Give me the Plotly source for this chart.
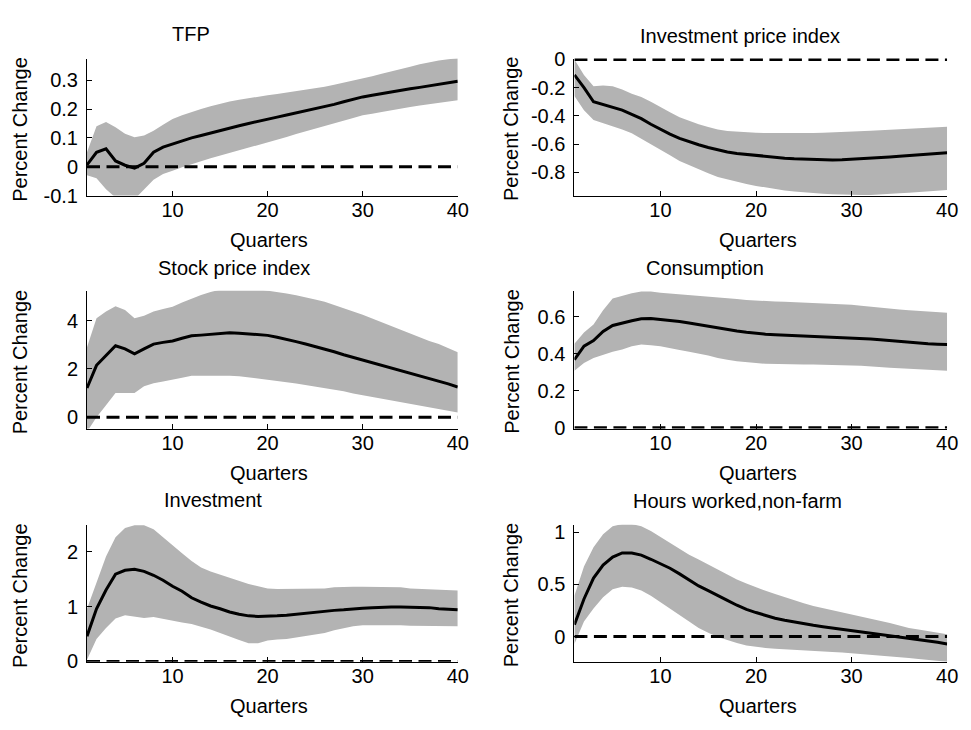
import plotly.graph_objects as go

# Impulse responses (percent change) over 40 quarters: median and error band
quarters = list(range(1, 41))

tfp_med = [0.006, 0.05, 0.062, 0.02, 0.005, -0.005, 0.012, 0.05, 0.068, 0.079,
           0.09, 0.10, 0.108, 0.117, 0.126, 0.134, 0.142, 0.150, 0.158, 0.166,
           0.172, 0.179, 0.186, 0.193, 0.200, 0.208, 0.216, 0.225, 0.234, 0.242,
           0.248, 0.254, 0.260, 0.265, 0.270, 0.275, 0.280, 0.286, 0.291, 0.296]
tfp_hi = [0.05, 0.14, 0.155, 0.137, 0.114, 0.102, 0.108, 0.125, 0.145, 0.165,
          0.178, 0.19, 0.200, 0.210, 0.219, 0.226, 0.232, 0.238, 0.243, 0.248,
          0.252, 0.257, 0.261, 0.266, 0.271, 0.277, 0.284, 0.291, 0.298, 0.306,
          0.314, 0.322, 0.331, 0.339, 0.347, 0.355, 0.362, 0.368, 0.373, 0.376]
tfp_lo = [-0.03, -0.04, -0.078, -0.107, -0.119, -0.113, -0.08, -0.045, -0.025, -0.014,
          -0.002, 0.009, 0.019, 0.029, 0.038, 0.048, 0.057, 0.066, 0.076, 0.085,
          0.094, 0.103, 0.113, 0.122, 0.131, 0.141, 0.150, 0.160, 0.169, 0.178,
          0.184, 0.190, 0.196, 0.202, 0.207, 0.212, 0.217, 0.221, 0.226, 0.230]

ipi_med = [-0.11, -0.2, -0.3, -0.32, -0.335, -0.36, -0.39, -0.42, -0.46, -0.497,
           -0.53, -0.56, -0.585, -0.605, -0.625, -0.643, -0.656, -0.667, -0.674, -0.68,
           -0.69, -0.697, -0.7, -0.705, -0.708, -0.71, -0.712, -0.713, -0.711, -0.708,
           -0.705, -0.7, -0.697, -0.692, -0.687, -0.682, -0.677, -0.673, -0.668, -0.662]
ipi_hi = [0.0, -0.11, -0.19, -0.185, -0.19, -0.214, -0.244, -0.267, -0.3, -0.34,
          -0.375, -0.41, -0.437, -0.46, -0.48, -0.497, -0.507, -0.513, -0.517, -0.52,
          -0.522, -0.523, -0.524, -0.525, -0.524, -0.522, -0.52, -0.518, -0.515, -0.513,
          -0.51, -0.506, -0.502, -0.499, -0.496, -0.492, -0.488, -0.484, -0.481, -0.478]
ipi_lo = [-0.26, -0.36, -0.43, -0.455, -0.474, -0.497, -0.524, -0.559, -0.6, -0.64,
          -0.68, -0.72, -0.752, -0.78, -0.808, -0.834, -0.853, -0.869, -0.884, -0.897,
          -0.909, -0.92, -0.929, -0.937, -0.943, -0.948, -0.952, -0.956, -0.959, -0.961,
          -0.962, -0.962, -0.96, -0.955, -0.949, -0.945, -0.941, -0.937, -0.932, -0.926]

spi_med = [1.21, 2.15, 2.56, 2.96, 2.83, 2.63, 2.83, 3.03, 3.1, 3.16,
           3.27, 3.37, 3.4, 3.43, 3.46, 3.5, 3.48, 3.46, 3.43, 3.39,
           3.31, 3.23, 3.13, 3.03, 2.93, 2.83, 2.71, 2.59, 2.48, 2.36,
           2.26, 2.15, 2.05, 1.95, 1.84, 1.72, 1.62, 1.51, 1.38, 1.25]
spi_hi = [2.9, 4.1, 4.38, 4.6, 4.44, 4.1, 4.2, 4.38, 4.48, 4.58,
          4.75, 4.92, 5.06, 5.19, 5.28, 5.32, 5.34, 5.33, 5.3, 5.25,
          5.19, 5.12, 5.05, 4.98, 4.88, 4.78, 4.65, 4.51, 4.38, 4.24,
          4.09, 3.93, 3.79, 3.64, 3.47, 3.3, 3.16, 3.03, 2.86, 2.69]
spi_lo = [-0.6, 0.0, 0.5, 1.0, 1.0, 1.0, 1.28, 1.41, 1.48, 1.55,
          1.64, 1.72, 1.72, 1.72, 1.72, 1.72, 1.7, 1.68, 1.62, 1.55,
          1.5, 1.45, 1.4, 1.35, 1.28, 1.21, 1.15, 1.08, 0.98, 0.88,
          0.81, 0.74, 0.68, 0.61, 0.54, 0.47, 0.41, 0.34, 0.27, 0.2]

con_med = [0.367, 0.44, 0.47, 0.52, 0.552, 0.566, 0.578, 0.588, 0.59, 0.584,
           0.58, 0.574, 0.566, 0.557, 0.546, 0.536, 0.529, 0.522, 0.515, 0.509,
           0.505, 0.502, 0.5, 0.497, 0.494, 0.491, 0.49, 0.488, 0.486, 0.484,
           0.482, 0.479, 0.475, 0.47, 0.466, 0.462, 0.457, 0.453, 0.451, 0.45]
con_hi = [0.453, 0.514, 0.557, 0.634, 0.698, 0.712, 0.726, 0.735, 0.735, 0.729,
          0.725, 0.72, 0.716, 0.712, 0.709, 0.707, 0.7, 0.695, 0.69, 0.686,
          0.683, 0.681, 0.68, 0.678, 0.675, 0.672, 0.67, 0.669, 0.666, 0.664,
          0.658, 0.652, 0.648, 0.643, 0.638, 0.634, 0.63, 0.626, 0.623, 0.621]
con_lo = [0.307, 0.35, 0.376, 0.393, 0.41, 0.422, 0.44, 0.45, 0.445, 0.44,
          0.43, 0.419, 0.41, 0.402, 0.39, 0.376, 0.367, 0.359, 0.354, 0.35,
          0.345, 0.341, 0.341, 0.341, 0.341, 0.341, 0.341, 0.341, 0.338, 0.336,
          0.335, 0.333, 0.328, 0.324, 0.321, 0.319, 0.316, 0.312, 0.309, 0.307]

inv_med = [0.46, 0.96, 1.3, 1.59, 1.66, 1.68, 1.64, 1.57, 1.48, 1.37,
           1.28, 1.16, 1.08, 1.01, 0.96, 0.9, 0.86, 0.83, 0.82, 0.82,
           0.83, 0.84, 0.86, 0.88, 0.9, 0.91, 0.93, 0.94, 0.96, 0.97,
           0.98, 0.99, 0.99, 0.99, 0.99, 0.99, 0.98, 0.96, 0.95, 0.94]
inv_hi = [0.96, 1.42, 1.91, 2.26, 2.43, 2.48, 2.48, 2.41, 2.26, 2.12,
          1.97, 1.83, 1.71, 1.64, 1.58, 1.52, 1.47, 1.41, 1.37, 1.33,
          1.32, 1.32, 1.32, 1.32, 1.33, 1.33, 1.35, 1.36, 1.36, 1.36,
          1.36, 1.36, 1.35, 1.35, 1.33, 1.32, 1.31, 1.3, 1.3, 1.29]
inv_lo = [0.03, 0.41, 0.61, 0.78, 0.84, 0.81, 0.79, 0.81, 0.78, 0.74,
          0.71, 0.68, 0.63, 0.58, 0.52, 0.46, 0.39, 0.33, 0.33, 0.38,
          0.4, 0.41, 0.44, 0.46, 0.49, 0.52, 0.57, 0.61, 0.64, 0.66,
          0.66, 0.66, 0.66, 0.66, 0.65, 0.65, 0.65, 0.64, 0.64, 0.64]

hrs_med = [0.114, 0.36, 0.56, 0.685, 0.76, 0.8, 0.8, 0.78, 0.74, 0.7,
           0.654, 0.6, 0.546, 0.485, 0.44, 0.39, 0.346, 0.3, 0.26, 0.23,
           0.2, 0.176, 0.157, 0.139, 0.123, 0.108, 0.095, 0.083, 0.068, 0.052,
           0.04, 0.028, 0.017, 0.006, -0.005, -0.015, -0.028, -0.04, -0.055, -0.071]
hrs_hi = [0.39, 0.67, 0.855, 0.98, 1.055, 1.077, 1.077, 1.055, 1.01, 0.954,
          0.9, 0.84, 0.784, 0.738, 0.69, 0.64, 0.593, 0.546, 0.508, 0.47,
          0.438, 0.407, 0.376, 0.346, 0.318, 0.293, 0.273, 0.253, 0.233, 0.213,
          0.195, 0.176, 0.153, 0.13, 0.107, 0.083, 0.068, 0.052, 0.037, 0.022]
hrs_lo = [-0.071, 0.145, 0.27, 0.377, 0.454, 0.478, 0.47, 0.44, 0.39, 0.33,
          0.27, 0.207, 0.145, 0.083, 0.037, -0.003, -0.034, -0.062, -0.086, -0.1,
          -0.109, -0.117, -0.122, -0.127, -0.133, -0.139, -0.144, -0.148, -0.153, -0.157,
          -0.163, -0.17, -0.179, -0.188, -0.196, -0.204, -0.214, -0.225, -0.233, -0.24]

titles = ["TFP", "Investment price index", "Stock price index",
          "Consumption", "Investment", "Hours worked,non-farm"]

# y tick values and their printed labels per panel
ytick_vals = [[-0.1, 0, 0.1, 0.2, 0.3],
              [-0.8, -0.6, -0.4, -0.2, 0],
              [0, 2, 4],
              [0, 0.2, 0.4, 0.6],
              [0, 1, 2],
              [0, 0.5, 1]]
ytick_text = [["-0.1", "0", "0.1", "0.2", "0.3"],
              ["-0.8", "-0.6", "-0.4", "-0.2", "0"],
              ["0", "2", "4"],
              ["0", "0.2", "0.4", "0.6"],
              ["0", "1", "2"],
              ["0", "0.5", "1"]]
xtick_vals = [10, 20, 30, 40]
xtick_text = ["10", "20", "30", "40"]

y_ranges = [[-0.1, 0.375], [-0.965, 0.006], [-0.47, 5.24],
            [-0.005, 0.74], [-0.005, 2.49], [-0.24, 1.07]]

series = [(tfp_med, tfp_lo, tfp_hi), (ipi_med, ipi_lo, ipi_hi),
          (spi_med, spi_lo, spi_hi), (con_med, con_lo, con_hi),
          (inv_med, inv_lo, inv_hi), (hrs_med, hrs_lo, hrs_hi)]

W, H = 971, 730
col_px = [(88, 463), (581, 958)]
row_px = [(50, 191), (289, 431), (530, 671)]

FONT = "Liberation Sans, Arial, sans-serif"
FS = 20
BAND = "#b3b3b3"

fig = go.Figure()
layout = dict(width=W, height=H, margin=dict(l=0, r=0, t=0, b=0),
              paper_bgcolor="white", plot_bgcolor="white", showlegend=False,
              font=dict(family=FONT, size=FS, color="black"))
annotations = []

for i, (med, lo, hi) in enumerate(series):
    r, c = divmod(i, 2)
    xa = "x" if i == 0 else f"x{i+1}"
    ya = "y" if i == 0 else f"y{i+1}"
    # error band
    fig.add_trace(go.Scatter(x=quarters + quarters[::-1], y=hi + lo[::-1],
                             fill="toself", fillcolor=BAND, mode="lines",
                             line=dict(width=0, color=BAND), hoverinfo="skip",
                             xaxis=xa, yaxis=ya))
    # median response
    fig.add_trace(go.Scatter(x=quarters, y=med, mode="lines",
                             line=dict(color="black", width=3),
                             xaxis=xa, yaxis=ya))
    # zero reference line
    fig.add_trace(go.Scatter(x=[quarters[0], quarters[-1]], y=[0, 0], mode="lines",
                             line=dict(color="black", width=3, dash="13px,6.5px"),
                             xaxis=xa, yaxis=ya))

    x0, x1 = col_px[c]
    y0, y1 = row_px[r]
    key = "" if i == 0 else str(i + 1)
    layout["xaxis" + key] = dict(
        domain=[x0 / W, x1 / W], anchor=ya, range=[1, 40],
        tickvals=xtick_vals, ticktext=xtick_text, ticks="inside", ticklen=5,
        tickcolor="black", showline=True, linecolor="black", linewidth=1,
        showgrid=False, zeroline=False, ticklabelstandoff=-4,
        tickfont=dict(family=FONT, size=FS, color="black"))
    layout["yaxis" + key] = dict(
        domain=[1 - y1 / H, 1 - y0 / H], anchor=xa, range=y_ranges[i],
        tickvals=ytick_vals[i], ticktext=ytick_text[i], ticks="inside", ticklen=5,
        tickcolor="black", showline=True, linecolor="black", linewidth=1,
        showgrid=False, zeroline=False, ticklabelstandoff=4,
        tickfont=dict(family=FONT, size=FS, color="black"))

    # axis titles
    annotations.append(dict(text="Quarters", xref="paper", yref="paper",
                            x=(x0 + x1) / 2 / W - 3 / W, y=1 - (y1 + 46) / H,
                            showarrow=False, xanchor="center", yanchor="middle",
                            font=dict(family=FONT, size=FS)))
    annotations.append(dict(text="Percent Change", xref="paper", yref="paper",
                            x=(20 if c == 0 else 517) / W, y=1 - ((y0 + y1) / 2 + 2) / H,
                            textangle=-90, showarrow=False, xanchor="center",
                            yanchor="middle", font=dict(family=FONT, size=FS)))

# panel titles
title_pos = [(193, 25), (748, 27), (237, 266), (713, 266), (215, 505), (746, 506)]
for t, (tx, ty) in zip(titles, title_pos):
    annotations.append(dict(text=t, xref="paper", yref="paper", x=tx / W, y=1 - ty / H,
                            showarrow=False, xanchor="center", yanchor="middle",
                            font=dict(family=FONT, size=FS)))

layout["annotations"] = annotations
fig.update_layout(**layout)
fig.write_html("out.html")
